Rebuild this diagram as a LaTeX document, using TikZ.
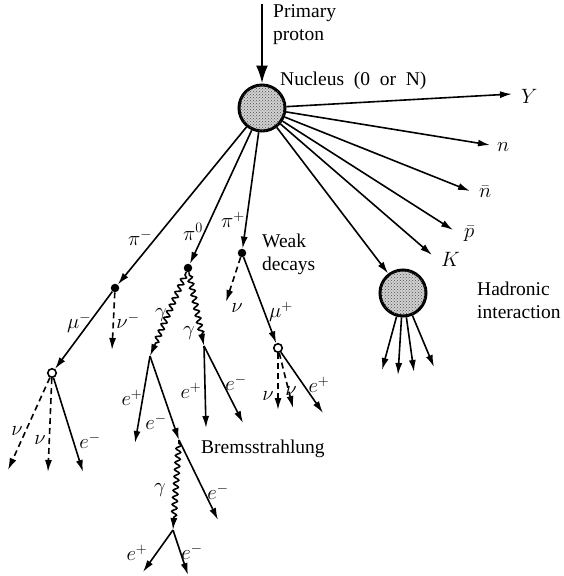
\documentclass[tikz,border=0pt]{standalone}
\usepackage{fontspec}
\setmainfont{Liberation Serif}
\usetikzlibrary{arrows.meta, decorations.pathmorphing, patterns}
\begin{document}
\begin{tikzpicture}[
    x=1pt, y=-1pt,
    font=\fontsize{19.5}{23}\selectfont,
    trk/.style={-{Latex[length=12pt,width=7pt]}, line width=1.6pt},
    nutrk/.style={trk, dash pattern=on 6pt off 4pt},
    phot/.style={trk, decorate, decoration={snake, amplitude=2.5pt, segment length=7pt, pre length=3pt, post length=11pt}},
    nucl/.style={circle, draw, line width=3pt, minimum size=46pt, inner sep=0pt, fill=gray!35,
                 postaction={pattern=crosshatch dots, pattern color=gray!60!black}},
    vtx/.style={circle, fill, inner sep=0pt, minimum size=8.5pt},
    ovtx/.style={circle, draw, line width=1.6pt, fill=white, inner sep=0pt, minimum size=8.5pt},
    lbl/.style={inner sep=0pt, font=\fontsize{20.5}{22}\selectfont}
  ]
  \useasboundingbox (0,0) rectangle (563,576);

  % primary nucleus and beam
  \node[nucl] (nuc) at (262,108) {};
  \coordinate (beam) at (262,4);
  \draw[-{Latex[length=18pt,width=12pt]}, line width=2.5pt] (beam) -- (nuc);
  \node[anchor=north west, align=left, inner sep=0pt] (prim) at (273,4) {Primary\\proton};
  \node[anchor=base west, inner sep=0pt] (nuctext) at (280,85) {Nucleus \ (0 \ or \ N)};

  % fast secondaries
  \coordinate (tY)  at (512,94);
  \coordinate (tn)  at (490,145);
  \coordinate (tnb) at (470,191);
  \coordinate (tpb) at (453,230);
  \coordinate (tK)  at (432,255);
  \foreach \t in {tY, tn, tnb, tpb, tK}
    \draw[trk] (nuc) -- (\t);
  \node[lbl, anchor=west] at (521,96) {$Y$};
  \node[lbl, anchor=west] at (497,147) {$n$};
  \node[lbl, anchor=west] at (479,192) {$\bar n$};
  \node[lbl, anchor=west] at (464,234) {$\bar p$};
  \node[lbl, anchor=west] at (441,259) {$K$};

  % hadronic interaction
  \node[nucl] (hnuc) at (403,293) {};
  \draw[trk] (nuc) -- (hnuc);
  \foreach \x/\y in {382/370, 398/375, 414/372, 434/367}
    \draw[trk] (hnuc) -- (\x,\y);
  \node[anchor=north west, align=left, inner sep=0pt] (hadtext) at (477,282) {Hadronic\\interaction};

  % pi- branch
  \node[vtx] (pim) at (115,288) {};
  \draw[trk] (nuc) -- (pim);
  \node[lbl] at (140,238) {$\pi^-$};
  \coordinate (nubm) at (112,350);
  \draw[nutrk] (pim) -- (nubm);
  \node[lbl] at (128,321) {$\nu^-$};
  \node[ovtx] (mum) at (52,373) {};
  \draw[trk] (pim) -- (mum);
  \node[lbl] at (79,323) {$\mu^-$};
  \coordinate (nu1) at (8,470);
  \coordinate (nu2) at (48,472);
  \coordinate (em1) at (83,472);
  \draw[nutrk] (mum) -- (nu1);
  \draw[nutrk] (mum) -- (nu2);
  \draw[trk] (mum) -- (em1);
  \node[lbl] at (17,431) {$\nu$};
  \node[lbl] at (40,440) {$\nu$};
  \node[lbl] at (90,441) {$e^-$};

  % pi0 branch
  \node[vtx] (piz) at (188,268) {};
  \draw[trk] (nuc) -- (piz);
  \node[lbl] at (193,232) {$\pi^0$};
  \coordinate (cv1) at (150,356);
  \coordinate (cv2) at (204,346);
  \draw[phot] (piz) -- (cv1);
  \draw[phot] (piz) -- (cv2);
  \node[lbl] at (161,315) {$\gamma$};
  \node[lbl] at (189,333) {$\gamma$};
  \coordinate (ep1) at (135,443);
  \coordinate (brv) at (179,440);
  \draw[trk] (cv1) -- (ep1);
  \draw[trk] (cv1) -- (brv);
  \node[lbl] at (132,398) {$e^+$};
  \node[lbl] at (156,422) {$e^-$};
  \coordinate (ep2) at (206,428);
  \coordinate (em4) at (243,423);
  \draw[trk] (cv2) -- (ep2);
  \draw[trk] (cv2) -- (em4);
  \node[lbl] at (191,391) {$e^+$};
  \node[lbl] at (236,383) {$e^-$};

  % bremsstrahlung
  \node[anchor=base west, inner sep=0pt] (bremtext) at (201,453) {Bremsstrahlung};
  \coordinate (em2) at (218,520);
  \coordinate (cv3) at (173,530);
  \draw[trk] (brv) -- (em2);
  \draw[phot] (brv) -- (cv3);
  \node[lbl] at (218,492) {$e^-$};
  \node[lbl] at (160,490) {$\gamma$};
  \coordinate (ep3) at (143,572);
  \coordinate (em3) at (188,575);
  \draw[trk] (cv3) -- (ep3);
  \draw[trk] (cv3) -- (em3);
  \node[lbl] at (137,553) {$e^+$};
  \node[lbl] at (192,552) {$e^-$};

  % pi+ branch
  \node[vtx] (pip) at (242,253) {};
  \draw[trk] (nuc) -- (pip);
  \node[lbl] at (233,220) {$\pi^+$};
  \node[anchor=north west, align=left, inner sep=0pt] (weaktext) at (262,234) {Weak\\decays};
  \coordinate (nu3) at (226,302);
  \draw[nutrk] (pip) -- (nu3);
  \node[lbl] at (237,308) {$\nu$};
  \node[ovtx] (mup) at (278,348) {};
  \draw[trk] (pip) -- (mup);
  \node[lbl] at (281,312) {$\mu^+$};
  \coordinate (nu4) at (278,410);
  \coordinate (nu5) at (293,408);
  \coordinate (ep4) at (323,413);
  \draw[nutrk] (mup) -- (nu4);
  \draw[nutrk] (mup) -- (nu5);
  \draw[trk] (mup) -- (ep4);
  \node[lbl] at (268,396) {$\nu$};
  \node[lbl] at (291,391) {$\nu$};
  \node[lbl] at (319,385) {$e^+$};
\end{tikzpicture}
\end{document}
